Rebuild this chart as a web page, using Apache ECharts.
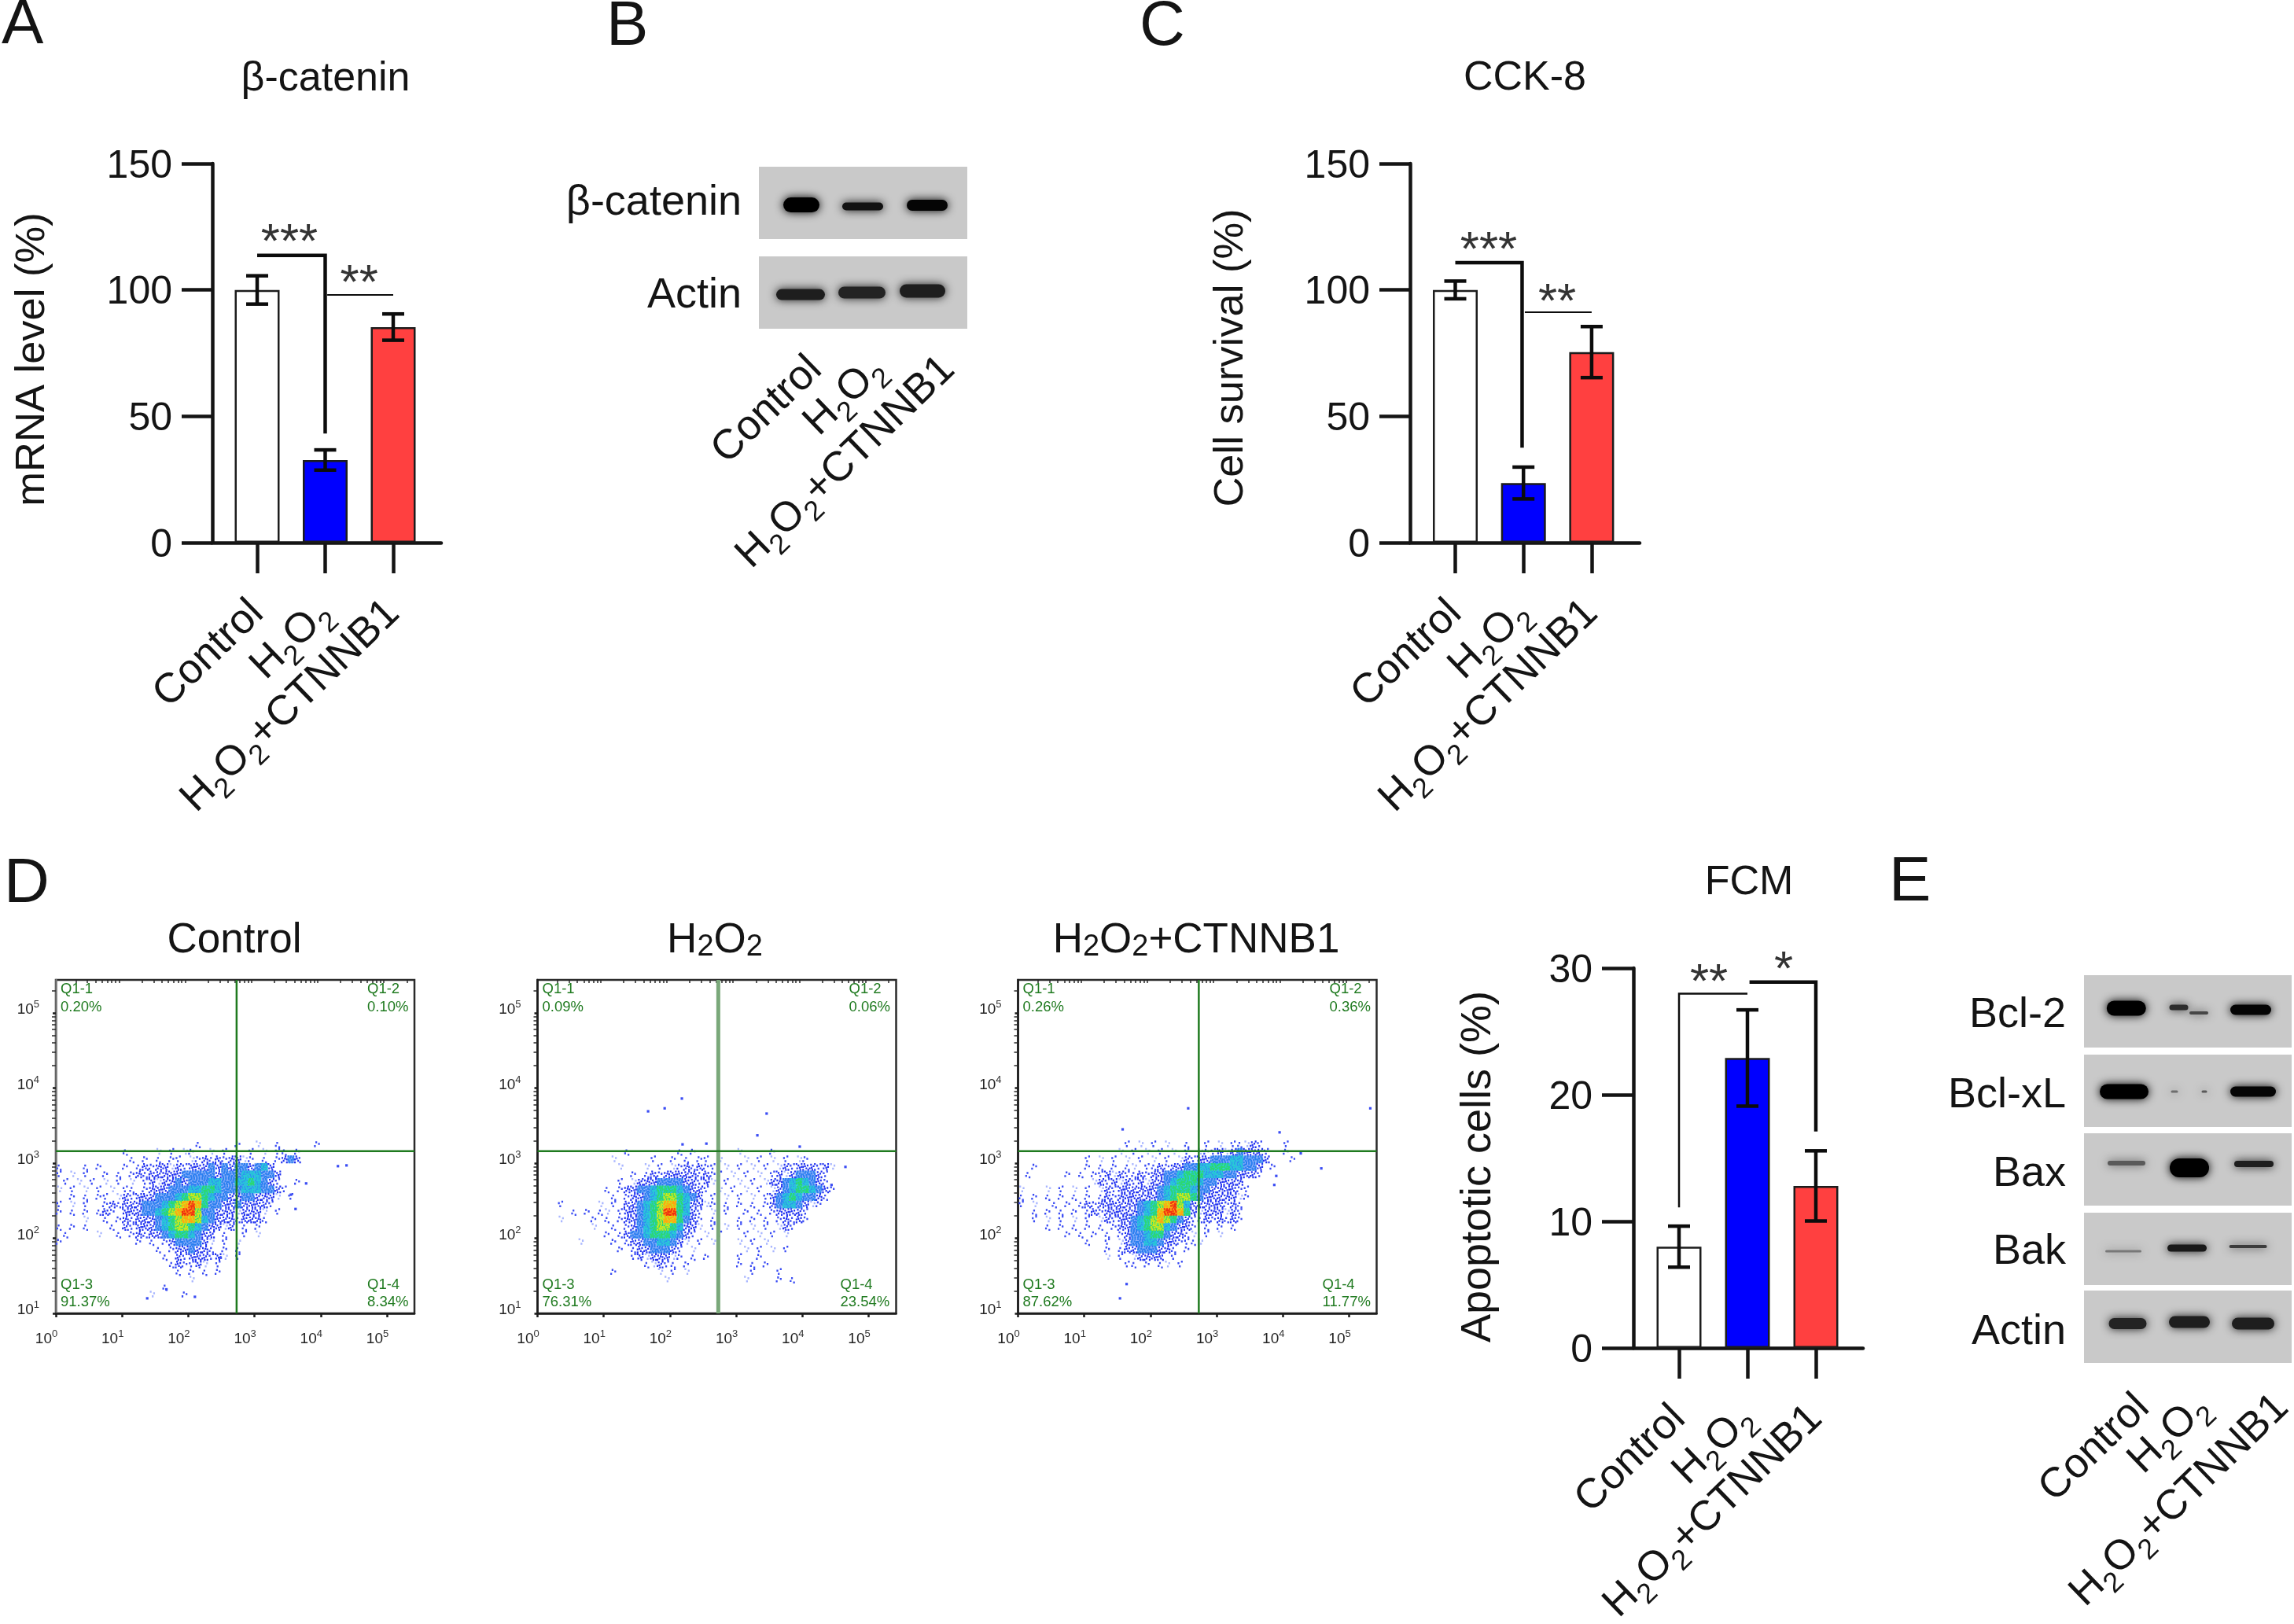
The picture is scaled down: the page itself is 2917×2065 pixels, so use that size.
<!DOCTYPE html>
<html><head><meta charset="utf-8">
<style>html,body{margin:0;padding:0;background:#fff}#c{width:2917px;height:2065px}</style>
<script src="https://cdn.jsdelivr.net/npm/echarts@6/dist/echarts.min.js"></script></head>
<body><div id="c"></div>
<script>
// ---------- DATA ----------
const groupLabels = ['Control', 'H{s|2}O{s|2}', 'H{s|2}O{s|2}+CTNNB1'];
const barColors = ['#ffffff', '#0000ff', '#ff4040'];

const mrnaValues = [100, 32.7, 85.3];
const mrnaErrors = [5.6, 4, 5.2];
const mrnaBrackets = [
  {w: 4.5, pts: [[0, 113.7], [1, 113.7], [1, 43.2]]},
  {w: 2, pts: [[1.03, 98], [2, 98]]}
];
const mrnaStars = [[0.474, 122, '***'], [1.5, 105.8, '**']];

const cckValues = [100, 23.6, 75.4];
const cckErrors = [3.5, 6.3, 10.1];
const cckBrackets = [
  {w: 4.5, pts: [[0, 110.8], [0.98, 110.8], [0.98, 37.6]]},
  {w: 2, pts: [[1.02, 91.2], [2, 91.2]]}
];
const cckStars = [[0.49, 119, '***'], [1.494, 98.3, '**']];

const fcmValues = [8, 22.9, 12.8];
const fcmErrors = [1.62, 3.8, 2.77];
const fcmBrackets = [
  {w: 2.5, pts: [[0, 11.1], [0, 27.98], [1, 27.98]]},
  {w: 4.5, pts: [[1.03, 28.9], [2, 28.9], [2, 17.1]]}
];
const fcmStars = [[0.437, 29.5, '**'], [1.53, 30.5, '*']];

// flow cytometry: density read per 0.1 decade; each row = [log10 y, cells by column of 0.1 decade of x]
const controlRows = [
[3.25,"..........  ..........  .1.....1..  1..1.....1"],
[3.15,"..........  1....1.1.1  1..1.1...1  .1.11.1..."],
[3.05,"..........  .1.1.1.11.  1121212211  .1.1232..."],
[2.95,"1...1.1...  1.12122121  2223232332  342......."],
[2.85,"1.1.1..1.1  .121222223  3333233344  4332......"],
[2.75,".1.1.1.1.1  .1.1212232  3334433445  4321..1..."],
[2.65,"1.1.1.1.1.  11.1222333  4455433344  43321....."],
[2.55,"..1.1.11.1  2122233345  6654332233  2221.1...."],
[2.45,"1.1.1..121  2223334567  8753322322  221......."],
[2.35,"1.1.1.121.  2223345678  8633222122  21.1......"],
[2.25,"....1..1.1  2122234567  7643222122  21........"],
[2.15,"1.1.1...1.  2122234566  5432212.1.  1........."],
[2.05,".1....1..1  .121223455  4322.1..1.  1........."],
[1.95,"1.........  ..1.1.1233  3321.1.1..  .........."],
[1.85,"..........  .....1.122  3221.1.1..  .........."],
[1.75,"..........  ......1.21  222121.1.."],
[1.65,"..........  .......121  121.1....."],
[1.55,"..........  ........1.  1.1.1....."],
[1.45,"..........  ..........  1........."],
[1.35,"..........  ......1..."],
[1.25,"..........  ....1....1"]
];
const h2o2Rows = [
[3.15,"..........  ...1......  .1.1......  1....1....  .........."],
[3.05,"..........  .1.....1..  1.1.11.1..  .1.1.1.1.1  1........."],
[2.95,"..........  ..1...1.1.  1121211.1.  1.1.1.1212  22121....."],
[2.85,"..........  ....1.1212  22221211.1  .1.1.12123  3321......"],
[2.75,"..........  ..1.122233  3322121.1.  1.1.122345  4321......"],
[2.65,"..........  1.12233455  543221.1.1  .1.1.12345  54321....."],
[2.55,"..........  .1.1223456  65432.1.1.  1.1.123454  3321......"],
[2.45,"...1.....1  .1.2234567  7542211.1.  1.1.123443  211......."],
[2.35,".....1.1.1  1.12234568  85421.1.1.  .1.1.12222  1........."],
[2.25,"...1....1.  1.12234567  75321.1...  1.1.1.1212  1........."],
[2.15,"........1.  .1.1234566  54221.1.1.  1.1.1.121.  .........."],
[2.05,"..........  1.12334555  4321.1.1..  .1.1.1.1..  .........."],
[1.95,"......1...  .1.1223344  321.1.1...  1.1.1.....  .........."],
[1.85,"..........  ..1.122333  21.1......  .1.1.1.1..  .........."],
[1.75,"..........  ....121222  11.1.1....  1..1......  .........."],
[1.65,"..........  ......1121  1.1.......  1.1.1.....  .........."],
[1.55,"..........  .1......1.  1.1.......  ..1...1...  .........."],
[1.45,"..........  .........1  ..........  .1....1.1.  .........."]
];
const ctnnb1Rows = [
[3.25,"..........  ......1.1.  1.1..1..1.  1.11121...  1........."],
[3.15,"..........  .....1.1.1  .1.1.1.111  21232221..  1........."],
[3.05,"..........  1.1.1.1.1.  1.1.121223  33443332..  .1........"],
[2.95,"..1.......  1.1.1.11.1  1212233445  5544332.1.  .........."],
[2.85,".1.....1.1  .112121121  2233455544  4332221..."],
[2.75,"..........  .121212121  2234555433  2222......"],
[2.65,"1...1.1.1.  1.12122222  2345554332  22211....."],
[2.55,"1.1.1.1.1.  1.12122222  2345665322  22211....."],
[2.45,"1.1..1.1.1  2122222234  5678642222  2121......"],
[2.35,"..1.1.1.1.  1212222234  5788752122  2121......"],
[2.25,"..1.1.1.1.  1.12122345  6765321121  2121......"],
[2.15,"....1.1.1.  1.1.122345  6643221.1.  1.1......."],
[2.05,".......1.1  .1.1.12334  5532211.1.  1........."],
[1.95,"..........  1..1.12334  43221111.."],
[1.85,"..........  ...1.12233  3221.1...."],
[1.75,"..........  ...1.1.122  22.1......"],
[1.65,"..........  ......11.1  .11.1....."]
];
const controlStray = [[4.26,2.96],[4.39,2.97],[3.55,2.58],[3.78,2.73],[3.62,2.39],[2.49,1.74],[1.67,1.32],[2.1,1.22],[1.38,1.2]];
const h2o2Stray = [[2.18,3.86],[1.92,3.73],[1.67,3.69],[3.46,3.66],[3.32,3.37],[4.65,2.95],[4.44,2.71],[2.19,3.25],[2.55,3.26],[3.96,3.22]];
const ctnnb1Stray = [[2.57,3.73],[5.32,3.73],[1.58,3.45],[3.95,3.41],[4.27,3.13],[3.9,2.83],[3.87,2.71],[4.58,2.93],[1.54,1.2],[1.64,1.39]];
const quadrantGate = [2.73, 3.16];
const controlPct = ['0.20%', '0.10%', '91.37%', '8.34%'];
const h2o2Pct = ['0.09%', '0.06%', '76.31%', '23.54%'];
const ctnnb1Pct = ['0.26%', '0.36%', '87.62%', '11.77%'];

// western blots: bands as [lane centre, row centre, width, height, gray level]
const blotCatenin = [[54,48.6,46,19,0],[132,50.5,52,10,18],[214,49,52,14,5]];
const blotActinB = [[53,48.6,62,14,30],[131,46,60,15,35],[208,44,58,17,30]];
const blotBcl2 = [[53.8,42,50,19,0],[120.5,41,24,7,45],[146,48,24,4,70],[212,44,52,13,5]];
const blotBclxL = [[51,47,62,19,0],[115,47,9,3,110],[153,47,7,3,90],[215,47,58,13,5]];
const blotBax = [[54,38,48,6,90],[134,44,50,24,0],[216,39,50,8,30]];
const blotBak = [[50,49,46,3,120],[131,45,50,9,25],[208.6,43,48,4,60]];
const blotActinE = [[55.5,42,48,14,35],[134,40,52,15,30],[215,42,54,15,30]];
const lanePosB = [72, 152, 241];
const lanePosE = [75, 151, 252];

// ---------- STYLE ----------
const FF = '"Liberation Sans", Arial, sans-serif';
const INK = '#141414';
const GREEN = '#1f7a1f';
const LEVEL = ['', '#3a4cf4', '#2233f0', '#2a7ff0', '#28c8d8', '#2cd870', '#c8e820', '#ffa510', '#f03010'];
const UNDER = ['', '', '', '#8fb0fa', '#2f8ff0', '#28c8d8', '#2cd870', '#c8e820', '#ffa510'];
const PALE = '#a9b6ff';
// speckle look of a density cell: dots inside a 10×10 cell
const SPECKLE = [[1,2],[6,0],[3,6],[8,4],[0,8],[5,3],[8,8],[2,0],[4,8],[7,6],[0,4],[5,6]];
const LEVEL_DOTS = [0, 3, 7, 11, 12, 12, 12, 12, 12];
function dotPath(n, v) {
  let p = 'M0 0L0 0ZM10 10L10 10Z';
  SPECKLE.slice(0, n).forEach(([a, b]) => {
    let x = a, y = b;
    if (v === 1) { x = b; y = a; } else if (v === 2) { x = 8 - a < 0 ? 0 : 8 - a; } else if (v === 3) { y = 8 - b < 0 ? 0 : 8 - b; }
    p += 'M' + x + ' ' + y + 'h2.6v2.6h-2.6Z';
  });
  return 'path://' + p;
}
const PATHS = [];
[1, 2, 3, 4, 5, 6, 7, 8].forEach(l => { PATHS[l] = [0, 1, 2, 3].map(v => dotPath(LEVEL_DOTS[l], v)); });

const option = {
  animation: false, backgroundColor: '#fff',
  textStyle: {fontFamily: FF},
  title: [], grid: [], xAxis: [], yAxis: [], series: [], graphic: []
};
const subRich = {s: {fontSize: 36, fontFamily: FF, color: INK, verticalAlign: 'bottom', lineHeight: 72}};

function addTitle(text, x, y, size, align, rich) {
  option.title.push({text, left: x, top: y, textAlign: align || 'center', textVerticalAlign: 'middle', padding: 0,
    textStyle: {fontFamily: FF, fontSize: size, fontWeight: 'normal', color: INK, rich: rich || {}}});
}

function barPanel(g) {
  const gi = option.grid.length;
  option.grid.push({left: g.left, top: g.top, width: g.right - g.left, height: g.bottom - g.top, outerBoundsMode: 'none'});
  const xs = g.x0, st = g.step;
  option.xAxis.push({gridIndex: gi, type: 'value', min: (g.left - xs) / st, max: (g.right - xs) / st,
    splitLine: {show: false},
    axisLine: {show: true, onZero: false, lineStyle: {color: INK, width: 4.5}},
    axisTick: {show: true, customValues: [0, 1, 2], length: 39, lineStyle: {color: INK, width: 4.5}},
    axisLabel: {show: true, customValues: [-0.5, 0, 1, 2, 2.5], rotate: 44, margin: 82, fontSize: 53, fontFamily: FF, color: INK,
      formatter: v => groupLabels[v] || '', rich: subRich}
  });
  option.yAxis.push({gridIndex: gi, type: 'value', min: 0, max: g.max, interval: g.max / 3,
    name: g.name, nameLocation: 'middle', nameGap: g.nameGap, nameRotate: 90,
    nameTextStyle: {fontFamily: FF, fontSize: g.nameSize, color: INK, padding: [0, g.namePad || 0, 0, 0]},
    splitLine: {show: false},
    axisLine: {show: true, onZero: false, lineStyle: {color: INK, width: 4.5}},
    axisTick: {show: true, length: g.left - g.tickLeft, lineStyle: {color: INK, width: 4.5}},
    axisLabel: {margin: g.left - g.tickLeft + 12, color: INK, formatter: '{a|{value}}',
      rich: {a: {fontSize: 50, fontFamily: FF, color: INK, padding: [8, 0, 0, 0]}}}
  });
  option.series.push({type: 'bar', xAxisIndex: gi, yAxisIndex: gi, barWidth: 57, clip: false,
    data: g.values.map((v, i) => ({value: [i, v], itemStyle: {color: barColors[i], borderColor: '#1c1c1c', borderWidth: 2.5}}))});
  option.series.push({type: 'custom', xAxisIndex: gi, yAxisIndex: gi, clip: false, z: 4,
    encode: {x: 0, y: [1, 2]},
    data: g.values.map((v, i) => [i, v - g.errors[i], v + g.errors[i]]),
    renderItem(p, api) {
      const x = api.value(0), a = api.coord([x, api.value(2)]), b = api.coord([x, api.value(1)]);
      const s = {stroke: '#0c0c0c', lineWidth: 4.5};
      return {type: 'group', children: [
        {type: 'line', shape: {x1: a[0], y1: a[1], x2: b[0], y2: b[1]}, style: s},
        {type: 'line', shape: {x1: a[0] - 14, y1: a[1], x2: a[0] + 14, y2: a[1]}, style: s},
        {type: 'line', shape: {x1: b[0] - 14, y1: b[1], x2: b[0] + 14, y2: b[1]}, style: s}]};
    }});
  g.brackets.forEach(br => option.series.push({type: 'line', xAxisIndex: gi, yAxisIndex: gi, data: br.pts, clip: false,
    symbol: 'none', z: 5, lineStyle: {color: '#0c0c0c', width: br.w, cap: 'butt', join: 'miter'}}));
  option.series.push({type: 'scatter', xAxisIndex: gi, yAxisIndex: gi, symbolSize: 0, clip: false, z: 6,
    data: g.stars.map(s => ({value: [s[0], s[1]], label: {formatter: s[2]}})),
    label: {show: true, position: 'inside', offset: [0, 12], fontSize: 62, fontFamily: FF, color: '#000'}});
}

function parseRows(rows, stray) {
  const pts = [];
  rows.forEach(([y, s], r) => {
    const cells = s.replace(/\s+/g, '');
    for (let i = 0; i < cells.length; i++) if (cells[i] !== '.') pts.push([(i + 0.5) / 10, y, +cells[i], (i * 3 + r * 5) % 4]);
  });
  stray.forEach(p => pts.push([p[0], p[1], 0, 0]));
  return pts;
}

const MINOR = [2, 3, 4, 5, 6, 7, 8, 9].map(Math.log10);
function minorTicks(lo, hi, max) {
  const out = [];
  for (let d = lo; d < hi; d++) MINOR.forEach(m => { if (d + m < max) out.push(d + m); });
  return out;
}

function flowPanel(f) {
  const gi = option.grid.length, W = 456, H = 424;
  const top = 1246;
  option.grid.push({left: f.left, top, width: W, height: H, show: true, borderColor: '#2a2a2a', borderWidth: 2.5, backgroundColor: '#fff', outerBoundsMode: 'none'});
  const xMax = W / 84.2, yMax = 1 + H / 95.5;
  const xi = option.xAxis.length, yi = option.yAxis.length;
  const lab = {fontSize: 19, fontFamily: FF, color: '#222',
    rich: {s: {fontSize: 13, fontFamily: FF, color: '#333', verticalAlign: 'top', lineHeight: 26}}};
  option.xAxis.push({gridIndex: gi, type: 'value', min: 0, max: xMax, splitLine: {show: false},
    axisLine: {show: true, lineStyle: {color: '#1c1c1c', width: 2.5}},
    axisTick: {show: true, customValues: [0, 1, 2, 3, 4, 5], length: 5, lineStyle: {color: '#1c1c1c', width: 2.5}},
    axisLabel: Object.assign({}, lab, {customValues: [0, 1, 2, 3, 4, 5], margin: 20, padding: [0, 24, 0, 0], showMinLabel: true, showMaxLabel: true,
      formatter: v => '10{s|' + Math.round(v) + '}'})});
  option.xAxis.push({gridIndex: gi, type: 'value', min: 0, max: xMax, show: true, splitLine: {show: false},
    axisLine: {show: false}, axisLabel: {show: false},
    axisTick: {show: true, inside: true, customValues: minorTicks(0, 6, xMax), length: 4, lineStyle: {color: '#2a2a2a', width: 1.5}}});
  option.yAxis.push({gridIndex: gi, type: 'value', min: 1, max: yMax, splitLine: {show: false},
    axisLine: {show: true, lineStyle: {color: f.leftColor || '#1c1c1c', width: 2.5}},
    axisTick: {show: true, customValues: [1, 2, 3, 4, 5], length: 4, lineStyle: {color: '#1c1c1c', width: 2.5}},
    axisLabel: Object.assign({}, lab, {customValues: [1, 2, 3, 4, 5], margin: 21, padding: [4, 0, 12, 0], showMinLabel: true, showMaxLabel: true,
      formatter: v => '10{s|' + Math.round(v) + '}'})});
  option.yAxis.push({gridIndex: gi, type: 'value', min: 1, max: yMax, show: true, splitLine: {show: false},
    axisLine: {show: false}, axisLabel: {show: false},
    axisTick: {show: true, inside: true, customValues: minorTicks(1, 6, yMax), length: 5, lineStyle: {color: '#2a2a2a', width: 1.5}}});
  const pts = parseRows(f.rows, f.stray);
  option.series.push({type: 'scatter', xAxisIndex: xi, yAxisIndex: yi, z: 2,
    data: pts.filter(d => d[2] >= 3),
    symbol: 'rect', symbolSize: [8.6, 9.8],
    itemStyle: {opacity: 1, color: p => UNDER[p.data[2]]}});
  option.series.push({type: 'scatter', xAxisIndex: xi, yAxisIndex: yi, z: 2.5,
    data: pts,
    symbol: d => d[2] === 0 ? 'rect' : PATHS[d[2]][d[3]],
    symbolSize: d => d[2] === 0 ? [3.2, 3.2] : [8.6, 9.8],
    itemStyle: {opacity: 1, color: p => {
      const d = p.data;
      if (d[2] === 0) return LEVEL[1];
      if (d[2] === 1) return d[3] === 2 ? PALE : LEVEL[1];
      return LEVEL[d[2]];
    }}});
  option.series.push({type: 'line', xAxisIndex: xi, yAxisIndex: yi, symbol: 'none', z: 3,
    data: [[quadrantGate[0], 1], [quadrantGate[0], yMax]],
    lineStyle: {color: f.vColor || GREEN, width: f.vWidth || 2.5}});
  option.series.push({type: 'line', xAxisIndex: xi, yAxisIndex: yi, symbol: 'none', z: 3,
    data: [[0, quadrantGate[1]], [xMax, quadrantGate[1]]],
    lineStyle: {color: GREEN, width: 2.5}});
  const put = (t, dx, y) => option.graphic.push({type: 'text', left: f.left + dx, top: y - 10, z: 50,
    style: {text: t, fill: GREEN, font: '18.5px ' + FF}});
  const rr = f.brOff;
  put('Q1-1', 6, 1258); put(f.pct[0], 6, 1281);
  put('Q1-2', 396, 1258); put(f.pct[1], 396, 1281);
  put('Q1-3', 6, 1634); put(f.pct[2], 6, 1656);
  put('Q1-4', rr, 1634); put(f.pct[3], rr, 1656);
}

function blot(b) {
  const gi = option.grid.length;
  option.grid.push({left: b.left, top: b.top, width: b.w, height: b.h, show: true, backgroundColor: '#c9c9c9', borderWidth: 0, outerBoundsMode: 'none'});
  option.xAxis.push(b.labels ? {gridIndex: gi, type: 'value', min: 0, max: b.w, splitLine: {show: false},
      axisLine: {show: false}, axisTick: {show: false},
      axisLabel: {show: true, customValues: [1].concat(b.labels, [b.w - 1]), rotate: 44, margin: b.margin, fontSize: 53, fontFamily: FF, color: INK,
        formatter: v => groupLabels[b.labels.indexOf(v)] || '', rich: subRich}}
    : {gridIndex: gi, type: 'value', min: 0, max: b.w, show: false, splitLine: {show: false}});
  option.yAxis.push({gridIndex: gi, type: 'value', min: 0, max: b.h, inverse: true, show: false, splitLine: {show: false}});
  option.series.push({type: 'custom', xAxisIndex: gi, yAxisIndex: gi, z: 2, data: b.bands,
    encode: {x: 0, y: 1},
    renderItem(p, api) {
      const c = api.coord([api.value(0), api.value(1)]), s = api.size([api.value(2), api.value(3)]);
      const g = api.value(4), col = 'rgb(' + g + ',' + g + ',' + g + ')';
      return {type: 'rect', shape: {x: c[0] - s[0] / 2, y: c[1] - s[1] / 2, width: s[0], height: s[1], r: s[1] / 2},
        style: {fill: col, shadowBlur: 12, shadowColor: col}};
    }});
  addTitle(b.name, b.labelRight, b.labelY, 54, 'right');
}

// ---------- PANELS ----------
addTitle('A', 2, 33, 80, 'left');
addTitle('B', 771, 35, 80, 'left');
addTitle('C', 1449, 35, 80, 'left');
addTitle('D', 5, 1125, 80, 'left');
addTitle('E', 2402, 1123, 80, 'left');
addTitle('β-catenin', 414, 101, 52);
addTitle('CCK-8', 1939, 100, 52);
addTitle('FCM', 2224, 1123, 52);
const flowRich = {s: {fontSize: 38, fontFamily: FF, color: INK, verticalAlign: 'bottom', lineHeight: 56}};
addTitle('Control', 298, 1196, 53);
addTitle('H{s|2}O{s|2}', 909, 1196, 53, 'center', flowRich);
addTitle('H{s|2}O{s|2}+CTNNB1', 1521, 1196, 53, 'center', flowRich);

barPanel({left: 270, right: 561, top: 208, bottom: 690, tickLeft: 231, x0: 327, step: 86.5, max: 150,
  name: 'mRNA level (%)', nameSize: 52.5, nameGap: 202, namePad: 16, values: mrnaValues, errors: mrnaErrors, brackets: mrnaBrackets, stars: mrnaStars});
barPanel({left: 1793, right: 2085, top: 208, bottom: 690, tickLeft: 1754, x0: 1850.5, step: 86.7, max: 150,
  name: 'Cell survival (%)', nameSize: 52.5, nameGap: 201, namePad: 12, values: cckValues, errors: cckErrors, brackets: cckBrackets, stars: cckStars});
barPanel({left: 2077.5, right: 2369, top: 1231, bottom: 1714, tickLeft: 2037, x0: 2135, step: 87, max: 30,
  name: 'Apoptotic cells (%)', nameSize: 54, nameGap: 170, namePad: 22, values: fcmValues, errors: fcmErrors, brackets: fcmBrackets, stars: fcmStars});

blot({left: 965, top: 212, w: 265, h: 92, bands: blotCatenin, name: 'β-catenin', labelRight: 943, labelY: 258});
blot({left: 965, top: 326, w: 265, h: 92, bands: blotActinB, name: 'Actin', labelRight: 943, labelY: 376, labels: lanePosB, margin: 44});
[[1240, blotBcl2, 'Bcl-2', 1291], [1341, blotBclxL, 'Bcl-xL', 1393], [1441, blotBax, 'Bax', 1493], [1542, blotBak, 'Bak', 1592]]
  .forEach(r => blot({left: 2650, top: r[0], w: 264, h: 92, bands: r[1], name: r[2], labelRight: 2627, labelY: r[3]}));
blot({left: 2650, top: 1641, w: 264, h: 92, bands: blotActinE, name: 'Actin', labelRight: 2627, labelY: 1694, labels: lanePosE, margin: 49});

flowPanel({left: 71, rows: controlRows, stray: controlStray, pct: controlPct, leftColor: '#777', brOff: 396});
flowPanel({left: 683.5, rows: h2o2Rows, stray: h2o2Stray, pct: h2o2Pct, vColor: '#7aa87a', vWidth: 5, brOff: 385});
flowPanel({left: 1294.5, rows: ctnnb1Rows, stray: ctnnb1Stray, pct: ctnnb1Pct, brOff: 387});

const chart = echarts.init(document.getElementById('c'), null, {renderer: 'canvas', width: 2917, height: 2065, devicePixelRatio: 1});
chart.setOption(option);
</script></body></html>
